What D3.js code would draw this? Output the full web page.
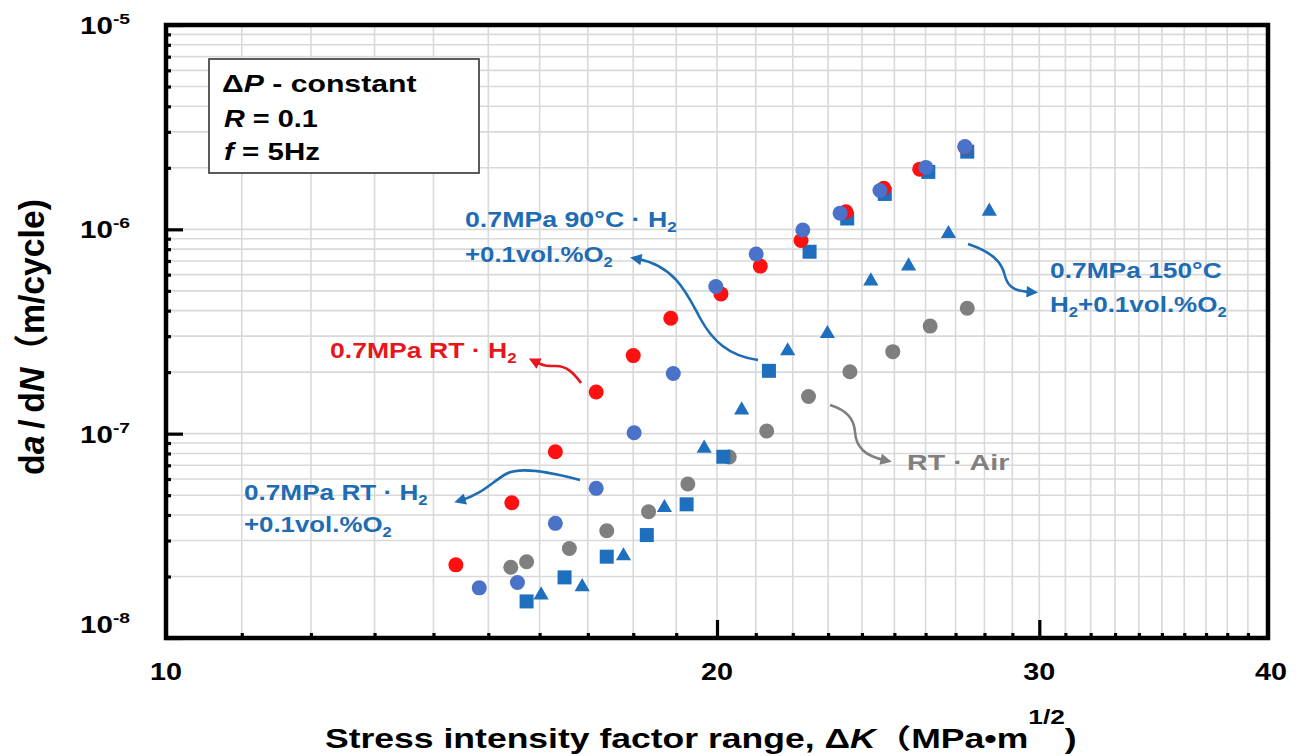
<!DOCTYPE html>
<html><head><meta charset="utf-8">
<script src="https://cdn.jsdelivr.net/npm/d3@7"></script>
<style>
body{margin:0;background:#fff}
text{font-family:"Liberation Sans",Arial,"Noto Sans CJK JP",sans-serif;font-weight:bold}
</style></head>
<body><svg id="c" width="1306" height="756"></svg>
<script>
// ---- data (ΔK in MPa·m^1/2, da/dN in m/cycle) ----
const xTickVals=[10,20,30,40];
const xTickLabels=["10","20","30","40"];
const yTickExps=[-5,-6,-7,-8];

const rtH2K=[14.40,15.45,16.32,17.18,18.00,18.87,20.10,21.12,22.23,23.52,24.67,25.81,27.32];
const rtH2Rate=[2.28e-8,4.59e-8,8.16e-8,1.60e-7,2.41e-7,3.67e-7,4.83e-7,6.61e-7,8.82e-7,1.22e-6,1.59e-6,1.97e-6,2.53e-6];

const rtO2K=[14.83,15.56,16.32,17.18,18.02,18.93,19.97,21.01,22.28,23.35,24.55,26.01,27.32];
const rtO2Rate=[1.76e-8,1.87e-8,3.64e-8,5.40e-8,1.01e-7,1.97e-7,5.25e-7,7.57e-7,9.92e-7,1.20e-6,1.55e-6,2.01e-6,2.54e-6];

const t90K=[15.74,16.51,17.41,18.31,19.25,20.16,21.35,22.47,23.56,24.70,26.09,27.40];
const t90Rate=[1.51e-8,1.98e-8,2.50e-8,3.19e-8,4.51e-8,7.71e-8,2.03e-7,7.77e-7,1.13e-6,1.49e-6,1.91e-6,2.40e-6];

const t150K=[16.03,16.88,17.78,18.72,19.68,20.63,21.86,22.98,24.27,25.45,26.76,28.17];
const t150Rate=[1.64e-8,1.80e-8,2.55e-8,4.39e-8,8.58e-8,1.32e-7,2.57e-7,3.12e-7,5.65e-7,6.69e-7,9.63e-7,1.24e-6];

const airK=[15.43,15.74,16.61,17.41,18.35,19.28,20.31,21.29,22.44,23.64,24.95,26.15,27.40];
const airRate=[2.22e-8,2.36e-8,2.74e-8,3.35e-8,4.15e-8,5.67e-8,7.69e-8,1.03e-7,1.52e-7,2.01e-7,2.52e-7,3.36e-7,4.11e-7];

// ---- layout ----
const svg=d3.select('#c');
const L=166,R=1268,T=25,B=638;
const x=d3.scaleLog().domain([10,40]).range([L,R]);
const y=d3.scaleLog().domain([1e-8,1e-5]).range([B,T]);

const xMinor=d3.range(11,40).filter(v=>v!==20&&v!==30);
const yMinor=[];
[-8,-7,-6].forEach(e=>{for(let m=2;m<=9;m++)yMinor.push(m*Math.pow(10,e));});
const yMajor=yTickExps.map(e=>Math.pow(10,e));

// grid
const grid=svg.append('g').attr('stroke','#d9d9d9').attr('stroke-width',1.6);
grid.selectAll('.gx').data(d3.range(11,40)).join('line')
  .attr('x1',d=>x(d)).attr('x2',d=>x(d)).attr('y1',T).attr('y2',B);
grid.selectAll('.gy').data(yMinor.concat([1e-7,1e-6])).join('line')
  .attr('y1',d=>y(d)).attr('y2',d=>y(d)).attr('x1',L).attr('x2',R);

// axes ticks
function tickAxis(axis,tr,size){
  const g=svg.append('g').attr('transform',tr).call(axis.tickSize(size).tickFormat(''));
  g.select('.domain').remove();
  g.selectAll('line').attr('stroke','#000').attr('stroke-width',3.2);
}
tickAxis(d3.axisBottom(x).tickValues(xMinor),`translate(0,${B})`,-5);
tickAxis(d3.axisBottom(x).tickValues([20,30]),`translate(0,${B})`,-18);
tickAxis(d3.axisLeft(y).tickValues(yMinor),`translate(${L},0)`,-5);
tickAxis(d3.axisLeft(y).tickValues(yMajor),`translate(${L},0)`,-17);

svg.append('rect').attr('x',L).attr('y',T).attr('width',R-L).attr('height',B-T)
  .attr('fill','none').attr('stroke','#000').attr('stroke-width',4.5);

// ---- text helper ----
function addText(px,py,parts,o={}){
  const size=o.size||22, anchor=o.anchor||'start';
  const g=svg.append('g').attr('transform',`translate(${px},${py})`+(o.rotate?` rotate(${o.rotate})`:''));
  const t=g.append('text').attr('font-size',size).attr('fill',o.fill||'#000').attr('text-anchor',anchor);
  let shift=0;
  parts.forEach(p=>{
    const ts=t.append('tspan').text(p.t);
    const target=p.sub?p.sub:(p.sup?-p.sup:0);
    if(target!==shift) ts.attr('dy',target-shift);
    shift=target;
    if(p.sub||p.sup) ts.attr('font-size',p.size||Math.round(size*0.65));
    if(p.i) ts.attr('font-style','italic');
  });
  if(o.width){
    const w=t.node().getBBox().width;
    t.attr('transform',`scale(${o.width/w},${o.sy||1})`);
  }
  return g;
}

// tick labels
xTickVals.forEach((v,i)=>addText(x(v)+(i===3?3:0),680,[{t:xTickLabels[i]}],{size:24,anchor:'middle',width:32}));
yTickExps.forEach((e,i)=>{
  const base=y(Math.pow(10,e))+(e===-8?-5:9);
  addText(130,base,[{t:'10'},{t:String(e),sup:10,size:15}],{size:23,anchor:'end',width:50});
});

// axis titles
addText(325,748,[{t:'Stress intensity factor range, Δ'},{t:'K',i:true},{t:'（MPa•m'},{t:'1/2',sup:24,size:20},{t:')'}],{size:27,width:752});
addText(44,337,[{t:'d'},{t:'a',i:true},{t:'\u2009/\u2009d'},{t:'N',i:true},{t:'（m/cycle)'}],{size:28,anchor:'middle',rotate:-90,width:276,sy:1.25});

// info box
svg.append('rect').attr('x',209).attr('y',59).attr('width',270).attr('height',114)
  .attr('fill','#fff').attr('stroke','#333').attr('stroke-width',1.6);
addText(222,92,[{t:'Δ'},{t:'P',i:true},{t:' - constant'}],{size:23,width:195});
addText(224,127,[{t:'R',i:true},{t:' = 0.1'}],{size:23,width:94});
addText(224,160,[{t:'f',i:true},{t:' = 5Hz'}],{size:23,width:96});

// ---- markers ----
const cRed='#ff1010', cBlueC='#4a72c8', cBlue='#1f6fbf', cGray='#7f7f7f';
function pts(K,Rt){return K.map((k,i)=>({k,r:Rt[i]}));}
svg.append('g').selectAll('circle').data(pts(airK,airRate)).join('circle')
  .attr('cx',d=>x(d.k)).attr('cy',d=>y(d.r)).attr('r',7.5).attr('fill',cGray);
const tri=d3.symbol().type(d3.symbolTriangle).size(100);
svg.append('g').selectAll('path').data(pts(t150K,t150Rate)).join('path')
  .attr('d',tri).attr('transform',d=>`translate(${x(d.k)},${y(d.r)+1})`).attr('fill',cBlue);
svg.append('g').selectAll('rect').data(pts(t90K,t90Rate)).join('rect')
  .attr('x',d=>x(d.k)-7).attr('y',d=>y(d.r)-7).attr('width',14).attr('height',14).attr('fill',cBlue);
svg.append('g').selectAll('circle').data(pts(rtH2K,rtH2Rate)).join('circle')
  .attr('cx',d=>x(d.k)).attr('cy',d=>y(d.r)).attr('r',7.5).attr('fill',cRed);
svg.append('g').selectAll('circle').data(pts(rtO2K,rtO2Rate)).join('circle')
  .attr('cx',d=>x(d.k)).attr('cy',d=>y(d.r)).attr('r',7.5).attr('fill',cBlueC);

// ---- annotations ----
const defs=svg.append('defs');
function mk(id,col){
  defs.append('marker').attr('id',id).attr('viewBox','0 0 10 10').attr('refX',3).attr('refY',5)
   .attr('markerWidth',5).attr('markerHeight',4.4).attr('orient','auto')
   .append('path').attr('d','M0,0L10,5L0,10z').attr('fill',col);
}
const aBlue='#1e6cb3', aRed='#e8161c', aGray='#808080';
mk('ab',aBlue);mk('ar',aRed);mk('ag',aGray);
function arrow(d,col,id){svg.append('path').attr('d',d).attr('fill','none').attr('stroke',col)
  .attr('stroke-width',2.6).attr('marker-end',`url(#${id})`);}
arrow('M758,360 C728,356 712,340 700,318 C688,296 676,266 638,259',aBlue,'ab');
arrow('M581,383 C573,372 566,366 556,366 C546,366 544,366 536,362',aRed,'ar');
arrow('M580,480 C550,472 520,466 506,474 C492,482 482,494 462,500',aBlue,'ab');
arrow('M968,244 C992,252 1002,262 1005,276 C1008,288 1016,291 1030,292',aBlue,'ab');
arrow('M830,405 C846,410 854,418 855,432 C856,448 866,456 884,460',aGray,'ag');

addText(465,227,[{t:'0.7MPa 90°C \u00B7 H'},{t:'2',sub:5,size:14}],{size:22,fill:aBlue,width:212});
addText(465,262,[{t:'+0.1vol.%O'},{t:'2',sub:5,size:14}],{size:22,fill:aBlue,width:148});
addText(330,358,[{t:'0.7MPa RT \u00B7 H'},{t:'2',sub:5,size:14}],{size:22,fill:aRed,width:187});
addText(244,500,[{t:'0.7MPa RT \u00B7 H'},{t:'2',sub:5,size:14}],{size:22,fill:aBlue,width:184});
addText(244,532,[{t:'+0.1vol.%O'},{t:'2',sub:5,size:14}],{size:22,fill:aBlue,width:148});
addText(1050,278,[{t:'0.7MPa 150°C'}],{size:22,fill:aBlue,width:172});
addText(1050,312,[{t:'H'},{t:'2',sub:5,size:14},{t:'+0.1vol.%O'},{t:'2',sub:5,size:14}],{size:22,fill:aBlue,width:177});
addText(907,470,[{t:'RT \u00B7 Air'}],{size:22,fill:aGray,width:103});
</script></body></html>
